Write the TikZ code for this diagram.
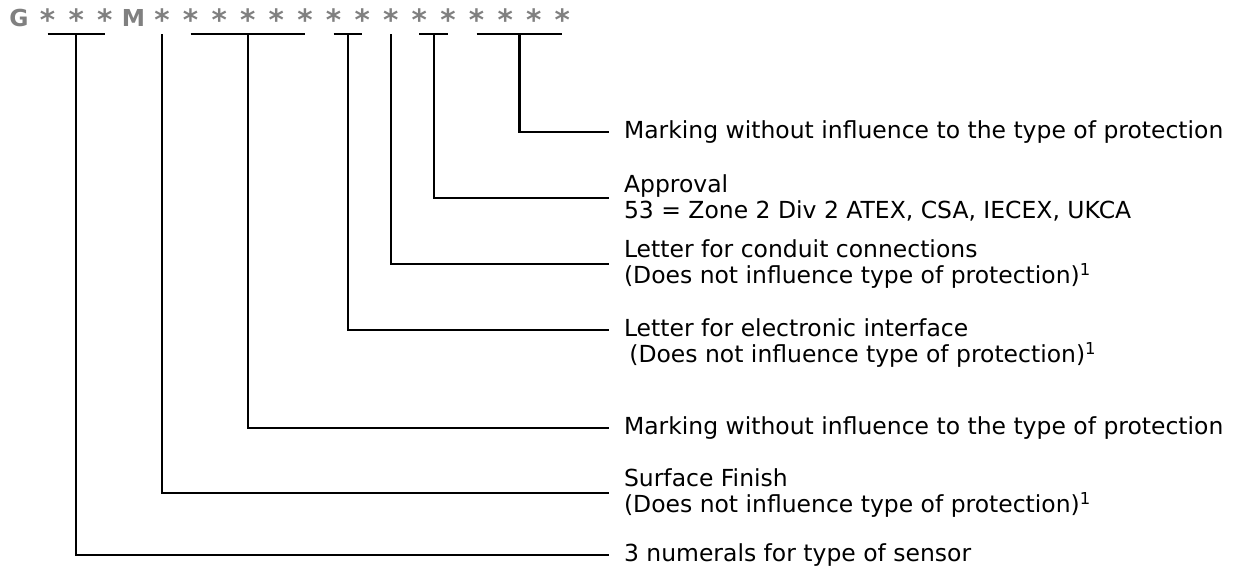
\documentclass[tikz,border=0pt]{standalone}
\usepackage{fontspec}
\setmainfont{DejaVu Sans}
\usetikzlibrary{calc,positioning}
\definecolor{codegray}{RGB}{128,128,128}
\begin{document}
\begin{tikzpicture}[x=0.75pt,y=-0.75pt,line width=1.6pt,
  letter/.style={font=\fontsize{17.5}{20}\selectfont\bfseries,text=codegray,inner sep=0pt,yshift=-2.5pt},
  star/.style={font=\fontsize{22}{24}\selectfont\bfseries,text=codegray,inner sep=0pt,yshift=-3.5pt},
  desc/.style={font=\fontsize{17.6}{20}\selectfont,anchor=west,align=left,inner xsep=10.5pt,inner ysep=0pt}]
  \useasboundingbox (0,0) rectangle (1233,576);
  \foreach \c/\s [count=\i] in {G/letter,*/star,*/star,*/star,M/letter,*/star,*/star,*/star,*/star,*/star,
      */star,*/star,*/star,*/star,*/star,*/star,*/star,*/star,*/star,*/star}
    \node[\s] (h\i) at ({19+28.6*(\i-1)},15) {\c};
  \coordinate (ul) at (0,34);
  \node[desc] (mark1) at (609,132) {Marking without influence to the type of protection};
  \node[desc] (appr) at (609,198) {Approval\\53 = Zone 2 Div 2 ATEX, CSA, IECEX, UKCA};
  \node[desc] (cond) at (609,264) {Letter for conduit connections\\(Does not influence type of protection)\textsuperscript{1}};
  \node[desc] (elec) at (609,343) {Letter for electronic interface\\\hspace*{4pt}(Does not influence type of protection)\textsuperscript{1}};
  \node[desc] (mark2) at (609,428) {Marking without influence to the type of protection};
  \node[desc] (surf) at (609,493) {Surface Finish\\(Does not influence type of protection)\textsuperscript{1}};
  \node[desc] (num) at (609,555) {3 numerals for type of sensor};
  \coordinate (elecin) at ([yshift=9.75pt]elec.west);
  \foreach \a/\b/\t in {2/4/num,6/6/surf,7/11/mark2,12/13/elecin,14/14/cond,15/16/appr,17/20/mark1} {
    \draw (h\a |- ul) -- (h\b |- ul);
    \draw ($(h\a |- ul)!.5!(h\b |- ul)$) |- (\t.west);
  }
\end{tikzpicture}
\end{document}
